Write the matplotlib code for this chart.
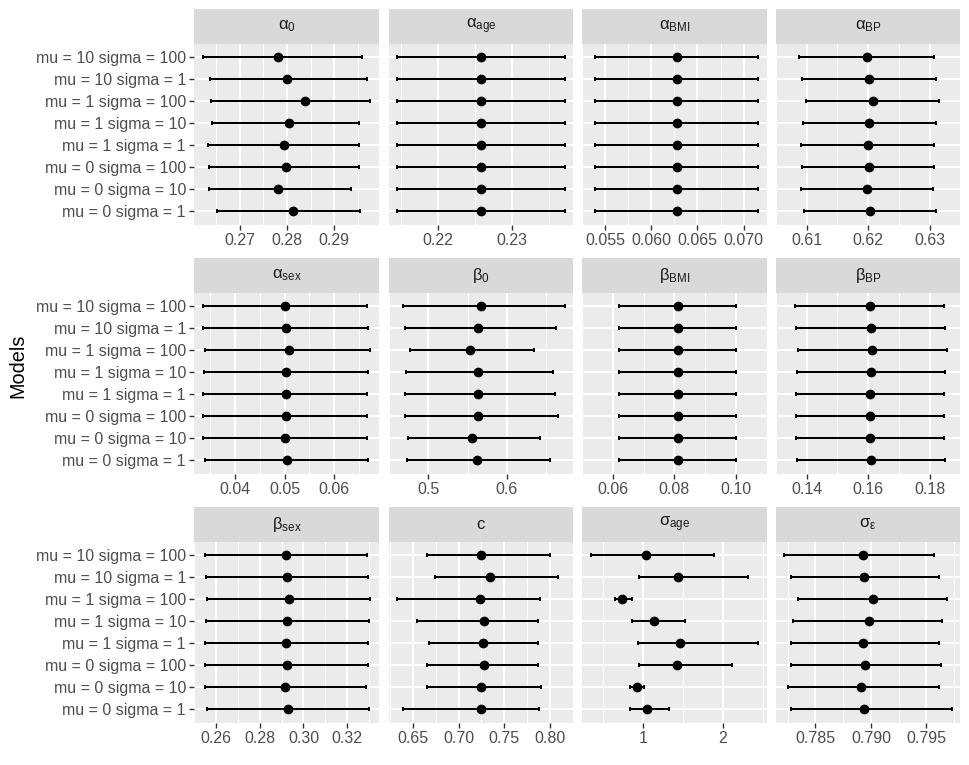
import numpy as np
import matplotlib
matplotlib.use("Agg")
import matplotlib.pyplot as plt

plt.rcParams['font.family'] = ['Liberation Sans', 'DejaVu Sans']
plt.rcParams['mathtext.fontset'] = 'custom'
plt.rcParams['mathtext.rm'] = 'Liberation Sans'
plt.rcParams['mathtext.it'] = 'Liberation Sans:italic'
plt.rcParams['mathtext.bf'] = 'Liberation Sans:bold'

# Models, bottom to top
models = ["mu = 0 sigma = 1", "mu = 0 sigma = 10", "mu = 0 sigma = 100",
          "mu = 1 sigma = 1", "mu = 1 sigma = 10", "mu = 1 sigma = 100",
          "mu = 10 sigma = 1", "mu = 10 sigma = 100"]

# Panel titles
titles = [r"$\mathrm{α_0}$", r"$\mathrm{α_{age}}$", r"$\mathrm{α_{BMI}}$", r"$\mathrm{α_{BP}}$",
          r"$\mathrm{α_{sex}}$", r"$\mathrm{β_0}$", r"$\mathrm{β_{BMI}}$", r"$\mathrm{β_{BP}}$",
          r"$\mathrm{β_{sex}}$", "c", r"$\mathrm{σ_{age}}$", r"$\mathrm{σ_{ε}}$"]

# Estimates (bottom to top, same order as models)
alpha0_lo = [0.2652, 0.2635, 0.2635, 0.2634, 0.2642, 0.2639, 0.2638, 0.2622]
alpha0_mid = [0.2812, 0.2782, 0.2797, 0.2793, 0.2805, 0.2839, 0.2800, 0.2781]
alpha0_hi = [0.2955, 0.2936, 0.2953, 0.2953, 0.2953, 0.2976, 0.2969, 0.2959]

alpha_age_lo = [0.2145] * 8
alpha_age_mid = [0.2258] * 8
alpha_age_hi = [0.2371] * 8

alpha_bmi_lo = [0.0539] * 8
alpha_bmi_mid = [0.0628] * 8
alpha_bmi_hi = [0.0716] * 8

alpha_bp_lo = [0.6096, 0.6090, 0.6092, 0.6091, 0.6094, 0.6099, 0.6092, 0.6088]
alpha_bp_mid = [0.6203, 0.6198, 0.6201, 0.6200, 0.6202, 0.6208, 0.6201, 0.6198]
alpha_bp_hi = [0.6311, 0.6306, 0.6308, 0.6308, 0.6310, 0.6316, 0.6310, 0.6308]

alpha_sex_lo = [0.03387, 0.03347, 0.0336, 0.0336, 0.03374, 0.0340, 0.0336, 0.03347]
alpha_sex_mid = [0.0504, 0.0501, 0.0502, 0.0502, 0.0503, 0.0508, 0.0503, 0.0501]
alpha_sex_hi = [0.0669, 0.0666, 0.0667, 0.0667, 0.0669, 0.0673, 0.0669, 0.0666]

beta0_lo = [0.4738, 0.4750, 0.4709, 0.4709, 0.4725, 0.4766, 0.4709, 0.4676]
beta0_mid = [0.5615, 0.5561, 0.5635, 0.5627, 0.5627, 0.5537, 0.5635, 0.5672]
beta0_hi = [0.6545, 0.6414, 0.6643, 0.6611, 0.6586, 0.6348, 0.6623, 0.6734]

beta_bmi_lo = [0.0618] * 8
beta_bmi_mid = [0.0810] * 8
beta_bmi_hi = [0.1002] * 8

beta_bp_lo = [0.1367, 0.1365, 0.1366, 0.1366, 0.1367, 0.1373, 0.1366, 0.1363]
beta_bp_mid = [0.1609, 0.1605, 0.1607, 0.1607, 0.1609, 0.1613, 0.1608, 0.1605]
beta_bp_hi = [0.1850, 0.1846, 0.1848, 0.1848, 0.1849, 0.1856, 0.1849, 0.1846]

beta_sex_lo = [0.2556, 0.2547, 0.2550, 0.2550, 0.2553, 0.2559, 0.2553, 0.2547]
beta_sex_mid = [0.2930, 0.2917, 0.2923, 0.2922, 0.2925, 0.2933, 0.2925, 0.2920]
beta_sex_hi = [0.3301, 0.3288, 0.3295, 0.3294, 0.3298, 0.3306, 0.3295, 0.3291]

c_lo = [0.6388, 0.6658, 0.6654, 0.6675, 0.6549, 0.6325, 0.6738, 0.6651]
c_mid = [0.7247, 0.7247, 0.7275, 0.7271, 0.7278, 0.7233, 0.7341, 0.7250]
c_hi = [0.7881, 0.7895, 0.7864, 0.7867, 0.7867, 0.7892, 0.8088, 0.7997]

sigma_age_lo = [0.833, 0.833, 0.954, 0.942, 0.867, 0.650, 0.946, 0.346]
sigma_age_mid = [1.050, 0.925, 1.425, 1.463, 1.142, 0.742, 1.442, 1.038]
sigma_age_hi = [1.325, 1.013, 2.108, 2.442, 1.521, 0.867, 2.317, 1.888]

sigma_eps_lo = [0.7828, 0.7825, 0.7828, 0.7828, 0.7830, 0.7834, 0.7828, 0.7822]
sigma_eps_mid = [0.7894, 0.7891, 0.7895, 0.7893, 0.7898, 0.7902, 0.7894, 0.7893]
sigma_eps_hi = [0.7973, 0.7961, 0.7963, 0.7961, 0.7964, 0.7969, 0.7961, 0.7957]

# x-axis breaks per panel
ticks_alpha0 = [0.27, 0.28, 0.29]
ticks_alpha_age = [0.22, 0.23]
ticks_alpha_bmi = [0.055, 0.060, 0.065, 0.070]
ticks_alpha_bp = [0.61, 0.62, 0.63]
ticks_alpha_sex = [0.04, 0.05, 0.06]
ticks_beta0 = [0.5, 0.6]
ticks_beta_bmi = [0.06, 0.08, 0.10]
ticks_beta_bp = [0.14, 0.16, 0.18]
ticks_beta_sex = [0.26, 0.28, 0.30, 0.32]
ticks_c = [0.65, 0.70, 0.75, 0.80]
ticks_sigma_age = [1, 2]
ticks_sigma_eps = [0.785, 0.790, 0.795]

labels_alpha0 = ["0.27", "0.28", "0.29"]
labels_alpha_age = ["0.22", "0.23"]
labels_alpha_bmi = ["0.055", "0.060", "0.065", "0.070"]
labels_alpha_bp = ["0.61", "0.62", "0.63"]
labels_alpha_sex = ["0.04", "0.05", "0.06"]
labels_beta0 = ["0.5", "0.6"]
labels_beta_bmi = ["0.06", "0.08", "0.10"]
labels_beta_bp = ["0.14", "0.16", "0.18"]
labels_beta_sex = ["0.26", "0.28", "0.30", "0.32"]
labels_c = ["0.65", "0.70", "0.75", "0.80"]
labels_sigma_age = ["1", "2"]
labels_sigma_eps = ["0.785", "0.790", "0.795"]

panels = [
    (alpha0_lo, alpha0_mid, alpha0_hi, ticks_alpha0, labels_alpha0),
    (alpha_age_lo, alpha_age_mid, alpha_age_hi, ticks_alpha_age, labels_alpha_age),
    (alpha_bmi_lo, alpha_bmi_mid, alpha_bmi_hi, ticks_alpha_bmi, labels_alpha_bmi),
    (alpha_bp_lo, alpha_bp_mid, alpha_bp_hi, ticks_alpha_bp, labels_alpha_bp),
    (alpha_sex_lo, alpha_sex_mid, alpha_sex_hi, ticks_alpha_sex, labels_alpha_sex),
    (beta0_lo, beta0_mid, beta0_hi, ticks_beta0, labels_beta0),
    (beta_bmi_lo, beta_bmi_mid, beta_bmi_hi, ticks_beta_bmi, labels_beta_bmi),
    (beta_bp_lo, beta_bp_mid, beta_bp_hi, ticks_beta_bp, labels_beta_bp),
    (beta_sex_lo, beta_sex_mid, beta_sex_hi, ticks_beta_sex, labels_beta_sex),
    (c_lo, c_mid, c_hi, ticks_c, labels_c),
    (sigma_age_lo, sigma_age_mid, sigma_age_hi, ticks_sigma_age, labels_sigma_age),
    (sigma_eps_lo, sigma_eps_mid, sigma_eps_hi, ticks_sigma_eps, labels_sigma_eps),
]

W, H = 969, 765
fig = plt.figure(figsize=(W / 100, H / 100), dpi=100)
fig.patch.set_facecolor("white")

col_left = [194.3, 388.7, 582.3, 776.0]
pw = 184.3
strip_top = [9.3, 258.3, 507.3]
strip_h = 34.4
panel_h = 181.0

AXCOL = "#4D4D4D"
TICKCOL = "#333333"
FS = 11.5

ypos = np.arange(1, len(models) + 1)

for i, (lo, mid, hi, tks, tlabels) in enumerate(panels):
    r, cidx = divmod(i, 4)
    x0 = col_left[cidx]
    st = strip_top[r]
    # strip
    sax = fig.add_axes([x0 / W, 1 - (st + strip_h) / H, pw / W, strip_h / H])
    sax.set_facecolor("#D9D9D9")
    sax.set_xticks([]); sax.set_yticks([])
    for sp in sax.spines.values():
        sp.set_visible(False)
    sax.text(0.5, 0.5, titles[i], ha="center", va="center", fontsize=FS + 0.5,
             color="#1A1A1A", transform=sax.transAxes)
    # panel
    ptop = st + strip_h
    ax = fig.add_axes([x0 / W, 1 - (ptop + panel_h) / H, pw / W, panel_h / H])
    ax.set_facecolor("#EBEBEB")
    for sp in ax.spines.values():
        sp.set_visible(False)
    lo_a, mid_a, hi_a = np.array(lo), np.array(mid), np.array(hi)
    xmin, xmax = lo_a.min(), hi_a.max()
    pad = 0.05 * (xmax - xmin)
    ax.set_xlim(xmin - pad, xmax + pad)
    ax.set_ylim(0.4, len(models) + 0.6)
    ax.set_xticks(tks)
    ax.set_xticklabels(tlabels)
    step = tks[1] - tks[0]
    minors = [tks[0] - step / 2] + [t + step / 2 for t in tks]
    ax.set_xticks(minors, minor=True)
    ax.set_yticks(ypos)
    ax.grid(True, which="major", color="white", linewidth=1.4)
    ax.grid(True, which="minor", axis="x", color="white", linewidth=0.7)
    ax.set_axisbelow(True)
    ax.tick_params(axis="both", which="major", length=3.4, width=1.0, color=TICKCOL,
                   labelsize=FS, labelcolor=AXCOL, pad=2.6)
    ax.tick_params(axis="x", which="minor", length=0)
    if cidx == 0:
        ax.set_yticklabels(models)
    else:
        ax.set_yticklabels([])
        ax.tick_params(axis="y", which="both", length=0)
    ax.errorbar(mid_a, ypos, xerr=[mid_a - lo_a, hi_a - mid_a], fmt="o",
                color="black", ecolor="black", elinewidth=1.45, capsize=1.7,
                capthick=1.45, markersize=6.0, zorder=3)

fig.text(18 / W, 1 - 365.5 / H, "Models", rotation=90, ha="center", va="center",
         fontsize=14.3, color="black")

fig.savefig("out.png", dpi=100, facecolor="white")
